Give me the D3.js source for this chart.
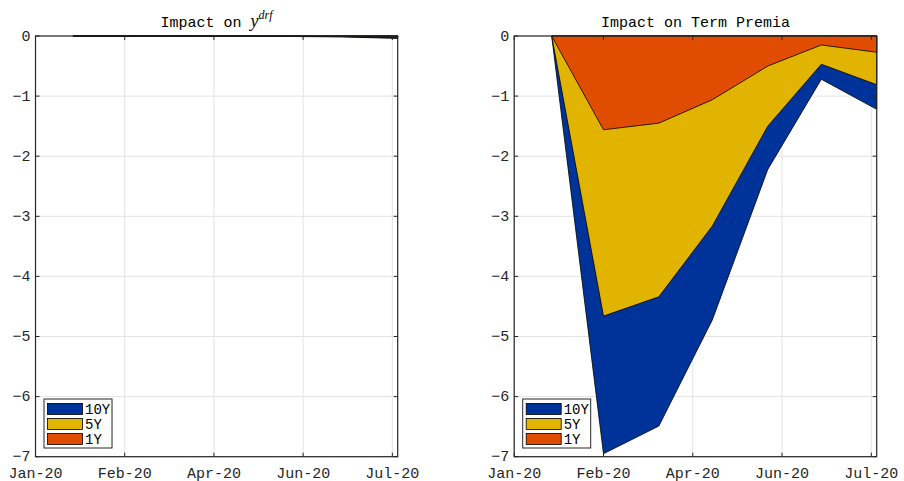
<!DOCTYPE html>
<html>
<head>
<meta charset="utf-8">
<script src="https://cdn.jsdelivr.net/npm/d3@7"></script>
<style>
  body { margin: 0; background: #fff; }
  svg { display: block; }
</style>
</head>
<body>
<svg id="chart" width="904" height="481"></svg>
<script>
// ---- data ----
const dates = ["2020-01-31", "2020-02-29", "2020-03-31", "2020-04-30", "2020-05-31", "2020-06-30", "2020-07-31"];
const seriesNames = ["10Y", "5Y", "1Y"];
const seriesColors = ["#003399", "#e0b400", "#e04c00"];
// Left panel: Impact on y^drf
const drf10Y = [0, -0.001, -0.002, -0.004, -0.008, -0.016, -0.040];
const drf5Y  = [0, -0.001, -0.001, -0.003, -0.005, -0.010, -0.025];
const drf1Y  = [0, -0.000, -0.001, -0.001, -0.002, -0.004, -0.010];
// Right panel: Impact on Term Premia
const tp10Y = [0, -6.95, -6.49, -4.72, -2.22, -0.72, -1.22];
const tp5Y  = [0, -4.66, -4.34, -3.16, -1.50, -0.47, -0.81];
const tp1Y  = [0, -1.56, -1.45, -1.06, -0.50, -0.15, -0.27];
const xDomain = ["2020-01-10", "2020-07-31"];
const xTickDates = ["2020-01-10", "2020-02-29", "2020-04-19", "2020-06-08", "2020-07-28"];
const xTickLabels = ["Jan-20", "Feb-20", "Apr-20", "Jun-20", "Jul-20"];
const yTicks = [0, -1, -2, -3, -4, -5, -6, -7];

const parse = d3.timeParse("%Y-%m-%d");
const svg = d3.select("#chart");
const MONO = "'Liberation Mono', 'Courier New', monospace";

function panel(left, right, titleFn, series) {
  const top = 36, bottom = 456.7;
  const x = d3.scaleTime().domain(xDomain.map(parse)).range([left, right]);
  const y = d3.scaleLinear().domain([-7, 0]).range([bottom, top]);
  const g = svg.append("g");

  // grid
  g.append("g").selectAll("line.vg").data(xTickDates).join("line")
    .attr("x1", d => x(parse(d))).attr("x2", d => x(parse(d)))
    .attr("y1", top).attr("y2", bottom)
    .attr("stroke", "#e3e3e3").attr("stroke-width", 1);
  g.append("g").selectAll("line.hg").data(yTicks).join("line")
    .attr("x1", left).attr("x2", right)
    .attr("y1", d => y(d)).attr("y2", d => y(d))
    .attr("stroke", "#e3e3e3").attr("stroke-width", 1);

  // areas (overlaid, 10Y first)
  const area = d3.area()
    .x((d, i) => x(parse(dates[i])))
    .y0(y(0))
    .y1(d => y(d));
  series.forEach((vals, k) => {
    g.append("path").datum(vals)
      .attr("d", area)
      .attr("fill", seriesColors[k])
      .attr("stroke", "#000")
      .attr("stroke-width", 0.8)
      .attr("stroke-linejoin", "round");
  });

  // box
  g.append("rect").attr("x", left).attr("y", top)
    .attr("width", right - left).attr("height", bottom - top)
    .attr("fill", "none").attr("stroke", "#262626").attr("stroke-width", 1.2);

  // x ticks (inward, bottom and top)
  xTickDates.forEach((d, i) => {
    const xx = x(parse(d));
    g.append("line").attr("x1", xx).attr("x2", xx).attr("y1", bottom).attr("y2", bottom - 4)
      .attr("stroke", "#262626");
    g.append("line").attr("x1", xx).attr("x2", xx).attr("y1", top).attr("y2", top + 4)
      .attr("stroke", "#262626");
    g.append("text").attr("x", xx).attr("y", 477.5)
      .attr("text-anchor", "middle")
      .attr("font-family", MONO).attr("font-size", 15).attr("fill", "#262626")
      .text(xTickLabels[i]);
  });
  // y ticks
  yTicks.forEach(v => {
    const yy = y(v);
    g.append("line").attr("x1", left).attr("x2", left + 4).attr("y1", yy).attr("y2", yy)
      .attr("stroke", "#262626");
    g.append("line").attr("x1", right).attr("x2", right - 4).attr("y1", yy).attr("y2", yy)
      .attr("stroke", "#262626");
    g.append("text").attr("x", left - 5).attr("y", yy).attr("dy", "0.3em")
      .attr("text-anchor", "end")
      .attr("font-family", MONO).attr("font-size", 15).attr("fill", "#262626")
      .text(v < 0 ? "\u2212" + Math.abs(v) : String(v));
  });

  // title
  const t = g.append("text").attr("x", (left + right) / 2).attr("y", 27)
    .attr("text-anchor", "middle")
    .attr("font-family", MONO).attr("font-size", 15).attr("fill", "#000");
  titleFn(t);

  // legend
  const lx = left + 8.5, ly = 399;
  const lg = g.append("g");
  lg.append("rect").attr("x", lx).attr("y", ly).attr("width", 68).attr("height", 49)
    .attr("fill", "#fff").attr("stroke", "#262626").attr("stroke-width", 1);
  seriesNames.forEach((name, k) => {
    const yy = ly + 4.5 + k * 15;
    lg.append("rect").attr("x", lx + 3.5).attr("y", yy).attr("width", 35).attr("height", 11)
      .attr("fill", seriesColors[k]).attr("stroke", "#000").attr("stroke-width", 0.8);
    lg.append("text").attr("x", lx + 41).attr("y", yy + 5.5).attr("dy", "0.35em")
      .attr("font-family", MONO).attr("font-size", 14).attr("fill", "#000")
      .text(name);
  });
}

panel(35.5, 397.7, t => {
  t.append("tspan").text("Impact on ");
  t.append("tspan").attr("font-family", "'Liberation Serif', 'DejaVu Serif', serif")
    .attr("font-style", "italic").attr("font-size", 18).text("y");
  t.append("tspan").attr("font-family", "'Liberation Serif', 'DejaVu Serif', serif")
    .attr("font-style", "italic").attr("font-size", 12).attr("dy", -8).text("drf");
}, [drf10Y, drf5Y, drf1Y]);

panel(514.2, 876.7, t => {
  t.text("Impact on Term Premia");
}, [tp10Y, tp5Y, tp1Y]);
</script>
</body>
</html>
